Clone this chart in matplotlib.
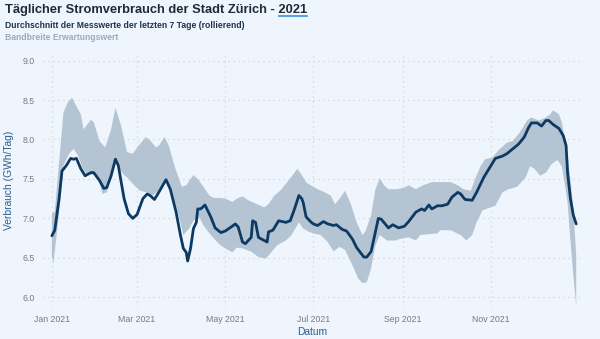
import numpy as np
import matplotlib
matplotlib.use("Agg")
import matplotlib.pyplot as plt
import matplotlib.dates as mdates
from matplotlib.lines import Line2D

# ---------------- data (day of year 2021, 0 = 1 Jan) ----------------
line_days = [0, 2, 5, 7, 10, 13, 15, 17, 20, 23, 27, 29, 33, 36, 38, 41, 44, 46, 50, 53,
             56, 59, 63, 66, 68, 71, 74, 79, 82, 86, 89, 91, 93, 94, 96, 98, 100, 101, 103, 106,
             110, 113, 117, 120, 124, 127, 129, 132, 134, 138, 139, 141, 143, 147, 149, 150, 153, 157, 162, 165,
             168, 171, 173, 174, 176, 179, 181, 184, 188, 191, 195, 197, 201, 204, 208, 211, 216, 218, 221, 224,
             226, 228, 233, 236, 240, 244, 247, 252, 253, 256, 258, 261, 263, 267, 270, 274, 277, 281, 283, 286,
             291, 294, 299, 304, 307, 312, 315, 319, 323, 327, 330, 332, 336, 339, 342, 344, 347, 351, 354, 356,
             357, 359, 361, 363]
line_vals = [6.78, 6.85, 7.25, 7.60, 7.67, 7.76, 7.75, 7.76, 7.63, 7.54, 7.58, 7.58, 7.48, 7.38, 7.39, 7.54, 7.75, 7.67, 7.25, 7.06,
             7.00, 7.05, 7.25, 7.31, 7.29, 7.24, 7.33, 7.49, 7.37, 7.08, 6.79, 6.62, 6.57, 6.46, 6.62, 6.87, 6.95, 7.12, 7.12, 7.17,
             7.02, 6.88, 6.82, 6.84, 6.89, 6.93, 6.89, 6.70, 6.68, 6.76, 6.97, 6.95, 6.76, 6.72, 6.70, 6.83, 6.85, 6.97, 6.95, 6.97,
             7.12, 7.29, 7.25, 7.20, 7.02, 6.96, 6.93, 6.91, 6.96, 6.93, 6.91, 6.92, 6.86, 6.84, 6.74, 6.63, 6.51, 6.51, 6.58, 6.83,
             7.00, 6.99, 6.88, 6.92, 6.88, 6.90, 6.96, 7.08, 7.09, 7.12, 7.10, 7.17, 7.12, 7.16, 7.16, 7.18, 7.27, 7.33, 7.31, 7.24,
             7.23, 7.33, 7.52, 7.67, 7.76, 7.79, 7.82, 7.88, 7.94, 8.03, 8.15, 8.21, 8.21, 8.17, 8.24, 8.24, 8.19, 8.14, 8.05, 7.92,
             7.58, 7.25, 7.04, 6.93]

upper_days = [0, 2, 5, 8, 11, 14, 17, 20, 22, 27, 29, 33, 37, 41, 44, 48, 52, 56, 60, 65,
              68, 72, 74, 78, 81, 85, 90, 93, 98, 101, 105, 109, 112, 117, 120, 125, 128, 132, 136, 142,
              147, 150, 154, 158, 163, 168, 170, 173, 176, 179, 184, 189, 193, 196, 200, 203, 207, 211, 215, 217,
              221, 224, 227, 230, 233, 239, 244, 247, 252, 257, 263, 269, 276, 281, 285, 290, 293, 297, 300, 305,
              309, 315, 319, 324, 329, 332, 337, 342, 345, 347, 351, 353, 355, 357, 359, 361, 363]
upper_vals = [7.06, 7.09, 7.71, 8.34, 8.47, 8.53, 8.42, 8.32, 8.13, 8.25, 8.22, 7.98, 7.90, 8.13, 8.40, 8.17, 7.84, 7.82, 7.92, 8.03,
              7.99, 7.90, 7.92, 8.03, 7.92, 7.66, 7.40, 7.42, 7.55, 7.50, 7.40, 7.29, 7.26, 7.26, 7.25, 7.21, 7.25, 7.28, 7.23, 7.18,
              7.14, 7.18, 7.29, 7.35, 7.46, 7.58, 7.63, 7.55, 7.46, 7.42, 7.37, 7.33, 7.29, 7.18, 7.27, 7.35, 7.18, 6.95, 6.79, 6.83,
              7.04, 7.37, 7.51, 7.42, 7.37, 7.37, 7.39, 7.42, 7.37, 7.42, 7.46, 7.46, 7.46, 7.42, 7.37, 7.35, 7.50, 7.67, 7.75, 7.77,
              7.86, 7.96, 7.98, 8.09, 8.24, 8.28, 8.24, 8.28, 8.32, 8.37, 8.32, 8.22, 8.02, 7.80, 7.50, 7.12, 6.53]

lower_days = [0, 1, 3, 6, 8, 12, 15, 18, 21, 24, 27, 30, 33, 35, 38, 41, 44, 47, 50, 52,
              57, 61, 66, 70, 75, 79, 82, 86, 89, 91, 95, 98, 102, 105, 110, 116, 120, 125, 128, 132,
              138, 143, 148, 151, 156, 162, 166, 171, 174, 178, 181, 186, 191, 195, 199, 203, 208, 212, 215, 218,
              221, 224, 227, 232, 238, 241, 247, 252, 255, 261, 267, 269, 276, 283, 287, 291, 294, 298, 302, 307,
              312, 316, 322, 328, 331, 334, 338, 342, 346, 350, 353, 355, 357, 359, 361, 363]
lower_vals = [6.53, 6.43, 6.74, 7.25, 7.67, 7.82, 7.88, 7.80, 7.65, 7.55, 7.56, 7.55, 7.45, 7.31, 7.33, 7.50, 7.72, 7.62, 7.55, 7.52,
              7.42, 7.35, 7.33, 7.29, 7.37, 7.46, 7.37, 7.16, 6.95, 6.79, 6.87, 6.97, 7.02, 6.91, 6.79, 6.67, 6.62, 6.57, 6.63, 6.62,
              6.58, 6.51, 6.49, 6.55, 6.66, 6.72, 6.79, 6.95, 6.87, 6.83, 6.81, 6.79, 6.70, 6.58, 6.64, 6.60, 6.41, 6.24, 6.18, 6.19,
              6.37, 6.66, 6.79, 6.72, 6.72, 6.74, 6.76, 6.72, 6.79, 6.80, 6.81, 6.85, 6.85, 6.79, 6.72, 6.79, 6.95, 7.10, 7.13, 7.16,
              7.33, 7.37, 7.40, 7.52, 7.66, 7.63, 7.54, 7.58, 7.69, 7.74, 7.66, 7.45, 7.20, 6.72, 6.28, 5.89]

tick_dates = ["2021-01-01", "2021-03-01", "2021-05-01", "2021-07-01", "2021-09-01", "2021-11-01"]
y_ticks = [6.0, 6.5, 7.0, 7.5, 8.0, 8.5, 9.0]

title_main = "Täglicher Stromverbrauch der Stadt Zürich - "
title_year = "2021"
subtitle = "Durchschnitt der Messwerte der letzten 7 Tage (rollierend)"
band_label = "Bandbreite Erwartungswert"
ylabel = "Verbrauch (GWh/Tag)"
xlabel = "Datum"

# ---------------- styling ----------------
BG = "#eef5fc"
LINE = "#0c3a63"
BAND = "#b5c4d3"
GRID = "#c9ced4"
TICK = "#7a7a7a"
AXLAB = "#2d5f8f"

plt.rcParams['font.family'] = ['Liberation Sans', 'DejaVu Sans']

base = np.datetime64("2021-01-01")
def to_dates(days):
    return base + np.array(days).astype("timedelta64[D]")

fig = plt.figure(figsize=(6.0, 3.39), dpi=100, facecolor=BG)
ax = fig.add_axes([0.072, 0.095, 0.898, 0.745])
ax.set_facecolor(BG)

ux = mdates.date2num(to_dates(upper_days))
lx = mdates.date2num(to_dates(lower_days))
ax.fill(np.concatenate([ux, lx[::-1]]),
        np.concatenate([upper_vals, lower_vals[::-1]]),
        color=BAND, lw=0, zorder=2)
ax.plot(to_dates(line_days), line_vals, color=LINE, lw=2.0, zorder=3,
        solid_joinstyle="round", solid_capstyle="round")

ax.set_xlim(base - np.timedelta64(6, "D"), base + np.timedelta64(367, "D"))
ax.set_ylim(5.88, 9.08)
ax.set_yticks(y_ticks)
ax.set_yticklabels([f"{v:.1f}" for v in y_ticks])
ax.set_xticks(mdates.date2num(np.array(tick_dates, dtype="datetime64[D]")))
ax.xaxis.set_major_formatter(mdates.DateFormatter("%b %Y"))

for s in ax.spines.values():
    s.set_visible(False)
ax.tick_params(length=0, colors=TICK, labelsize=6.3, pad=6)
ax.grid(True, color=GRID, lw=0.8, ls=(0, (1, 3.5)), zorder=0)
ax.set_axisbelow(True)

ax.set_ylabel(ylabel, color=AXLAB, fontsize=7.4, labelpad=6)
ax.set_xlabel(xlabel, color=AXLAB, fontsize=7.4, labelpad=2)

title_y = 1 - 12.5 / 339
title_kw = dict(fontsize=9.3, fontweight="bold", color="#1d2b38", va="baseline", ha="left")
t_full = fig.text(5 / 600, title_y, title_main + title_year, **title_kw)
fig.text(5 / 600, 1 - 27.5 / 339, subtitle, fontsize=6.2, fontweight="bold",
         color="#1d3350", va="baseline", ha="left")
fig.text(5 / 600, 1 - 40 / 339, band_label, fontsize=6.2, fontweight="bold",
         color="#9aabbd", va="baseline", ha="left")

# locate "2021" inside the title for the underline
t_tmp = fig.text(5 / 600, title_y, title_main.rstrip() + " ", **title_kw)
fig.canvas.draw()
inv = fig.transFigure.inverted()
b_full = t_full.get_window_extent().transformed(inv)
b_tmp = t_tmp.get_window_extent().transformed(inv)
t_tmp.remove()
fig.add_artist(Line2D([b_tmp.x1 + 0.5 / 600, b_full.x1], [1 - 16 / 339] * 2,
                      transform=fig.transFigure, color="#3d8fd8", lw=1.2))

fig.savefig("out.png", dpi=100, facecolor=BG)
